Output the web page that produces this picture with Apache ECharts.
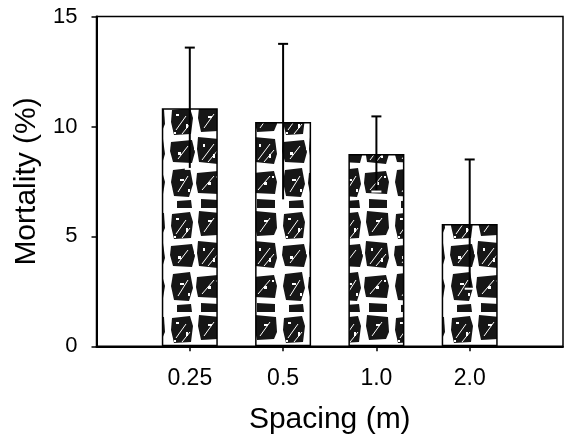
<!DOCTYPE html>
<html>
<head>
<meta charset="utf-8">
<script src="https://cdn.jsdelivr.net/npm/echarts@6/dist/echarts.min.js"></script>
<style>html,body{margin:0;padding:0;background:#fff;}#c{width:565px;height:442px;}</style>
</head>
<body>
<div id="c"></div>
<script>
// Data
const categories = ['0.25', '0.5', '1.0', '2.0'];
const mortality = [10.83, 10.2, 8.75, 5.56];
const errors = [2.76, 3.56, 1.71, 2.94];
const yTicks = [0, 5, 10, 15];

// Mottled texture for bars (fixed ragged blobs)
function makePattern() {
  const cv = document.createElement('canvas');
  cv.width = 56; cv.height = 104;
  const g = cv.getContext('2d');
  g.fillStyle = '#fff';
  g.fillRect(0, 0, 56, 104);
  g.fillStyle = '#161616';
  const blobs = [
    [[4,6],[22,4],[25,14],[23,30],[6,31],[3,18]],
    [[31,3],[52,5],[53,20],[50,27],[33,28],[30,14]],
    [[3,38],[24,36],[27,48],[24,59],[5,58],[2,47]],
    [[30,33],[51,35],[53,50],[50,60],[31,58],[29,45]],
    [[5,66],[22,64],[25,80],[21,93],[6,92],[3,78]],
    [[29,69],[50,67],[53,78],[51,90],[30,89],[28,79]],
    [[9,97],[23,96],[24,104],[9,104]],
    [[33,95],[51,96],[51,104],[33,104]]
  ];
  blobs.forEach(p => {
    g.beginPath();
    g.moveTo(p[0][0], p[0][1]);
    for (let k = 1; k < p.length; k++) g.lineTo(p[k][0], p[k][1]);
    g.closePath();
    g.fill();
  });
  // white diagonal streaks and specks
  g.strokeStyle = '#fff';
  g.lineWidth = 1;
  const streaks = [
    [8,26,18,12],[36,24,46,10],[10,55,20,42],[34,56,46,40],
    [10,88,20,72],[34,86,46,72],[14,30,22,20],[40,58,50,46]
  ];
  streaks.forEach(s => { g.beginPath(); g.moveTo(s[0], s[1]); g.lineTo(s[2], s[3]); g.stroke(); });
  g.fillStyle = '#fff';
  const specks = [
    [8,10,3,2],[18,20,2,4],[40,12,4,2],[35,40,2,3],
    [10,48,3,3],[45,50,2,4],[12,75,4,2],[40,78,3,3],
    [20,85,2,3],[48,72,2,2],[6,28,2,2],[26,44,3,2]
  ];
  specks.forEach(b => g.fillRect(b[0], b[1], b[2], b[3]));
  return cv;
}

const chart = echarts.init(document.getElementById('c'), null, {renderer: 'canvas'});
const font = "'Liberation Sans', Arial, Helvetica, sans-serif";
const tickPos = categories.map((c, i) => i + 1);

chart.setOption({
  animation: false,
  backgroundColor: '#fff',
  grid: {
    left: 96.5, right: 2, top: 16.6, bottom: 95.7,
    show: true, borderColor: '#000', borderWidth: 1.5, backgroundColor: 'transparent'
  },
  xAxis: {
    type: 'value', min: 0, max: 5, interval: 1,
    name: 'Spacing (m)', nameLocation: 'middle', nameGap: 58,
    nameTextStyle: {fontFamily: font, fontSize: 30, color: '#000'},
    axisLine: {show: true, lineStyle: {color: '#000', width: 2}},
    axisTick: {show: true, length: 5, lineStyle: {color: '#000', width: 1.5}, customValues: tickPos},
    axisLabel: {
      show: true, margin: 21, fontFamily: font, fontSize: 23, color: '#000',
      customValues: tickPos,
      formatter: v => categories[Math.round(v) - 1] || ''
    },
    splitLine: {show: false}
  },
  yAxis: {
    type: 'value', min: 0, max: 15, interval: 5,
    name: 'Mortality (%)', nameLocation: 'middle', nameGap: 51, nameRotate: 90,
    nameTextStyle: {fontFamily: font, fontSize: 30, color: '#000'},
    axisLine: {show: true, lineStyle: {color: '#000', width: 2}},
    axisTick: {show: true, length: 5, lineStyle: {color: '#000', width: 1.5}, customValues: yTicks},
    axisLabel: {margin: 19, fontFamily: font, fontSize: 22, color: '#000', customValues: yTicks},
    splitLine: {show: false}
  },
  series: [
    {
      type: 'bar',
      barWidth: 56,
      data: categories.map((c, i) => [i + 1, mortality[i]]),
      itemStyle: {
        color: {image: makePattern(), repeat: 'repeat'},
        borderColor: '#000', borderWidth: 1.5
      },
      z: 2
    },
    {
      type: 'custom',
      data: categories.map((c, i) => [i + 1, mortality[i], errors[i]]),
      renderItem: function (params, api) {
        const x = api.value(0), y = api.value(1), e = api.value(2);
        const top = api.coord([x, y + e]);
        const bot = api.coord([x, y - e]);
        const w = 5;
        const st = {stroke: '#000', lineWidth: 2};
        return {
          type: 'group',
          children: [
            {type: 'line', shape: {x1: top[0], y1: top[1], x2: bot[0], y2: bot[1]}, style: st},
            {type: 'line', shape: {x1: top[0] - w, y1: top[1], x2: top[0] + w, y2: top[1]}, style: st},
            {type: 'line', shape: {x1: bot[0] - w, y1: bot[1], x2: bot[0] + w, y2: bot[1]}, style: {stroke: '#fff', lineWidth: 2}}
          ]
        };
      },
      z: 3
    }
  ]
});
</script>
</body>
</html>
